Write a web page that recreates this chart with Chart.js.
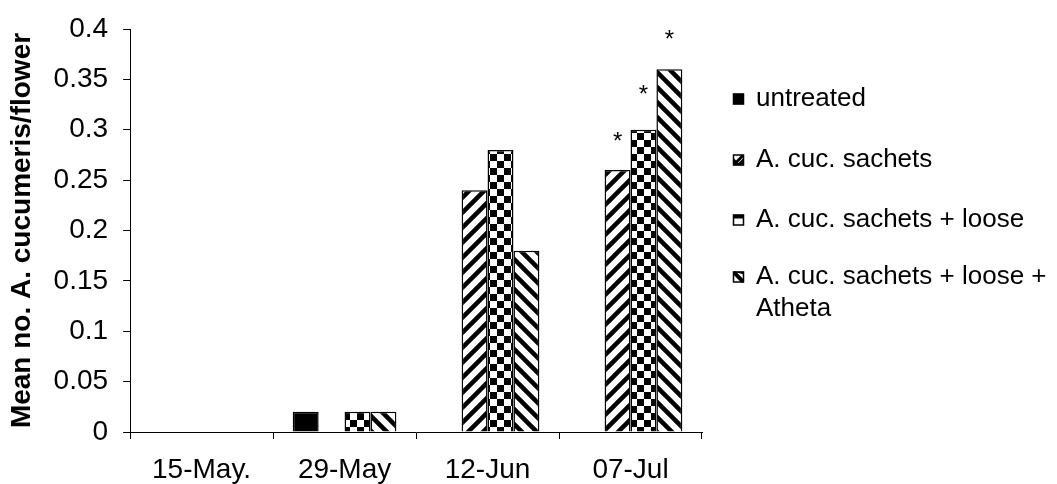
<!DOCTYPE html>
<html lang="en">
<head>
    <meta charset="UTF-8">
    <title>Mean no. A. cucumeris/flower</title>
    <style>
        html, body { margin: 0; padding: 0; background: #fff; }
        #wrap { width: 1057px; height: 484px; }
    </style>
</head>
<body>
    <div id="wrap">
        <canvas id="myChart"></canvas>
    </div>
<script src="https://cdn.jsdelivr.net/npm/chart.js"></script>
<script>
    const dates = ['15-May.', '29-May', '12-Jun', '07-Jul'];
    const seriesNames = ['untreated', 'A. cuc. sachets', 'A. cuc. sachets + loose', ['A. cuc. sachets + loose +', 'Atheta']];

    const untreated = [0, 0.02, 0, 0];
    const sachets = [0, 0, 0.24, 0.26];
    const sachetsLoose = [0, 0.02, 0.28, 0.30];
    const sachetsLooseAtheta = [0, 0.02, 0.18, 0.36];

    const yTicks = [0, 0.05, 0.1, 0.15, 0.2, 0.25, 0.3, 0.35, 0.4];

    // asterisks over the 07-Jul bars (level, per series)
    const starDate = 3;
    const starLevels = [null, 0.293, 0.339, 0.394];

    Chart.defaults.font.family = '"Liberation Sans", Arial, sans-serif';
    Chart.defaults.color = '#000';

    const canvas = document.getElementById('myChart');
    const mainCtx = canvas.getContext('2d');

    function stripes(dir) {
        const s = 15;
        const c = document.createElement('canvas');
        c.width = c.height = s;
        const g = c.getContext('2d');
        g.fillStyle = '#fff';
        g.fillRect(0, 0, s, s);
        g.strokeStyle = '#000';
        g.lineWidth = 4.5;
        g.beginPath();
        for (let k = -1; k <= 1; k++) {
            if (dir > 0) {
                g.moveTo(k * s - 2, s + 2);
                g.lineTo(k * s + s + 2, -2);
            } else {
                g.moveTo(k * s - 2, -2);
                g.lineTo(k * s + s + 2, s + 2);
            }
        }
        g.stroke();
        return mainCtx.createPattern(c, 'repeat');
    }

    function checker() {
        const s = 14;
        const c = document.createElement('canvas');
        c.width = c.height = s;
        const g = c.getContext('2d');
        g.fillStyle = '#fff';
        g.fillRect(0, 0, s, s);
        g.fillStyle = '#000';
        g.fillRect(0, 0, s / 2, s / 2);
        g.fillRect(s / 2, s / 2, s / 2, s / 2);
        return mainCtx.createPattern(c, 'repeat');
    }

    const fills = ['#000', stripes(1), checker(), stripes(-1)];

    // legend on the right, drawn by hand so the last entry can wrap
    const legendPlugin = {
        id: 'sideLegend',
        afterDraw(chart) {
            const ctx = chart.ctx;
            const boxX = 733, textX = 756, box = 11, lineGap = 32;
            const rows = [99, 160, 220, 277];
            ctx.save();
            ctx.font = '26px "Liberation Sans", Arial, sans-serif';
            ctx.textBaseline = 'middle';
            ctx.textAlign = 'left';
            seriesNames.forEach((name, i) => {
                const y = rows[i];
                const bx = boxX, by = y - box / 2;
                ctx.save();
                ctx.beginPath();
                ctx.rect(bx, by, box, box);
                ctx.clip();
                ctx.fillStyle = '#fff';
                ctx.fillRect(bx, by, box, box);
                ctx.fillStyle = '#000';
                ctx.strokeStyle = '#000';
                if (i === 0) {
                    ctx.fillRect(bx, by, box, box);
                } else if (i === 1) {
                    ctx.beginPath();
                    ctx.moveTo(bx, by + box);
                    ctx.lineTo(bx, by + 3);
                    ctx.lineTo(bx + box - 3, by + box);
                    ctx.closePath();
                    ctx.fill();
                    ctx.beginPath();
                    ctx.moveTo(bx + 3, by + box);
                    ctx.lineTo(bx + box, by + 3);
                    ctx.lineTo(bx + box, by + box);
                    ctx.closePath();
                    ctx.fill();
                    ctx.lineWidth = 3;
                    ctx.beginPath();
                    ctx.moveTo(bx + 1, by + box - 1);
                    ctx.lineTo(bx + box - 1, by + 1);
                    ctx.stroke();
                } else if (i === 2) {
                    ctx.fillRect(bx, by, box, 4);
                } else {
                    ctx.lineWidth = 4;
                    ctx.beginPath();
                    ctx.moveTo(bx, by);
                    ctx.lineTo(bx + box, by + box);
                    ctx.stroke();
                    ctx.beginPath();
                    ctx.moveTo(bx, by);
                    ctx.lineTo(bx + box, by);
                    ctx.lineTo(bx + box, by + 3);
                    ctx.closePath();
                    ctx.fill();
                }
                ctx.restore();
                ctx.lineWidth = 1.5;
                ctx.strokeStyle = '#000';
                ctx.strokeRect(bx + 0.5, by + 0.5, box - 1, box - 1);
                ctx.fillStyle = '#000';
                const lines = Array.isArray(name) ? name : [name];
                lines.forEach((t, j) => ctx.fillText(t, textX, y + j * lineGap));
            });
            ctx.restore();
        }
    };

    const starPlugin = {
        id: 'stars',
        afterDatasetsDraw(chart) {
            const ctx = chart.ctx;
            const yScale = chart.scales.y;
            const size = 24;
            ctx.save();
            ctx.font = size + 'px "Liberation Sans", Arial, sans-serif';
            ctx.fillStyle = '#000';
            ctx.textAlign = 'center';
            ctx.textBaseline = 'middle';
            starLevels.forEach((lvl, i) => {
                if (lvl === null) return;
                const bar = chart.getDatasetMeta(i).data[starDate];
                ctx.fillText('*', bar.x, yScale.getPixelForValue(lvl) + 0.22 * size);
            });
            ctx.restore();
        }
    };

    const seriesData = [untreated, sachets, sachetsLoose, sachetsLooseAtheta];

    const data = {
        labels: dates,
        datasets: seriesData.map((vals, i) => ({
            label: Array.isArray(seriesNames[i]) ? seriesNames[i].join(' ') : seriesNames[i],
            data: vals,
            backgroundColor: fills[i],
            borderColor: '#000',
            borderWidth: 1.5,
            categoryPercentage: 0.725,
            barPercentage: 1
        }))
    };

    const config = {
        type: 'bar',
        data,
        options: {
            responsive: true,
            maintainAspectRatio: false,
            animation: false,
            layout: {
                // tick padding is reserved twice by Chart.js, so pull the bottom back
                padding: { left: -1, right: 355, top: 26, bottom: -17 }
            },
            plugins: {
                legend: { display: false },
                tooltip: { enabled: false }
            },
            scales: {
                x: {
                    grid: {
                        display: true,
                        offset: true,
                        drawOnChartArea: false,
                        drawTicks: true,
                        tickLength: 7,
                        color: '#000'
                    },
                    border: { display: true, color: '#000', width: 1 },
                    ticks: {
                        color: '#000',
                        font: { size: 28, lineHeight: 1.0 },
                        padding: 17,
                        maxRotation: 0,
                        autoSkip: false
                    }
                },
                y: {
                    min: 0,
                    max: 0.4,
                    afterBuildTicks: (axis) => {
                        axis.ticks = yTicks.map(v => ({ value: v }));
                    },
                    grid: {
                        drawOnChartArea: false,
                        drawTicks: true,
                        tickLength: 7,
                        color: '#000'
                    },
                    border: { display: true, color: '#000', width: 1 },
                    ticks: {
                        color: '#000',
                        font: { size: 28, lineHeight: 1.0 },
                        padding: 15,
                        callback: (v) => String(+Number(v).toFixed(2))
                    },
                    title: {
                        display: true,
                        text: 'Mean no. A. cucumeris/flower',
                        color: '#000',
                        font: { size: 28, weight: 'bold' },
                        padding: { top: 6, bottom: 0 }
                    }
                }
            }
        },
        plugins: [starPlugin, legendPlugin]
    };

    var myChart = new Chart(canvas, config);
</script>
</body>
</html>
